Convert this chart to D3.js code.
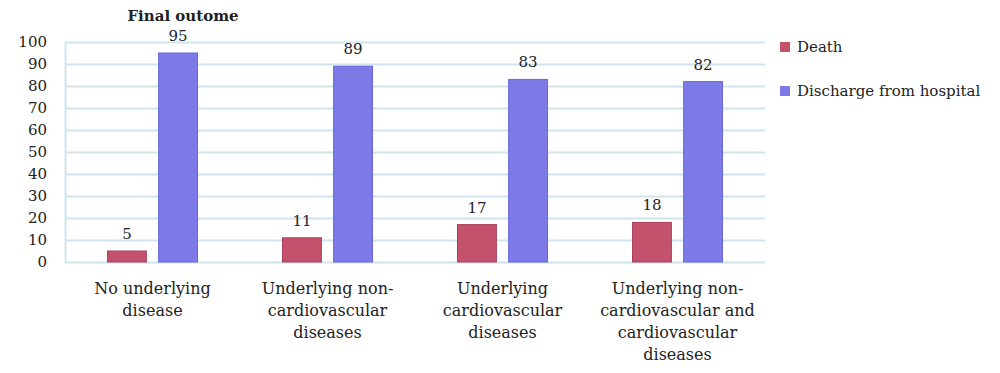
<!DOCTYPE html>
<html>
<head>
<meta charset="utf-8">
<script src="https://cdn.jsdelivr.net/npm/d3@7"></script>
<style>
  body { margin: 0; background: #fff; }
  text { font-family: "DejaVu Serif", serif; fill: #222; }
</style>
</head>
<body>
<div id="chart"></div>
<script>
// chart data
const categories = [
  ["No underlying", "disease"],
  ["Underlying non-", "cardiovascular", "diseases"],
  ["Underlying", "cardiovascular", "diseases"],
  ["Underlying non-", "cardiovascular and", "cardiovascular", "diseases"]
];
const seriesNames = ["Death", "Discharge from hospital"];
const death = [5, 11, 17, 18];
const discharge = [95, 89, 83, 82];
const yTicks = [0, 10, 20, 30, 40, 50, 60, 70, 80, 90, 100];

const fills = ["#c4526d", "#7d7ae8"];
const strokes = ["#a8405a", "#6966dc"];

let width = 1000, height = 373;
let margin = {left: 65, right: 235, top: 42, bottom: 111};

let svg = d3.select("#chart").append("svg")
  .attr("width", width).attr("height", height);

let x0 = d3.scaleBand()
  .domain(d3.range(categories.length))
  .range([margin.left, width - margin.right])
  .paddingInner(0).paddingOuter(0);

let x1 = d3.scaleBand()
  .domain([0, 1])
  .range([42, 133])
  .paddingInner(0.22);

let y = d3.scaleLinear()
  .domain([0, 100])
  .range([height - margin.bottom, margin.top]);

// grid
svg.append("g").selectAll("line")
  .data(yTicks)
  .join("line")
  .attr("x1", margin.left).attr("x2", width - margin.right)
  .attr("y1", d => y(d) + 0.5).attr("y2", d => y(d) + 0.5)
  .attr("stroke", "#cfe4ee")
  .attr("stroke-width", 2);

svg.append("line")
  .attr("x1", margin.left + 0.5).attr("x2", margin.left + 0.5)
  .attr("y1", y(100)).attr("y2", y(0) + 1)
  .attr("stroke", "#cfe4ee").attr("stroke-width", 2);

// y axis labels
let yAxis = d3.axisLeft(y).tickValues(yTicks).tickSize(0).tickPadding(18);
let ya = svg.append("g").attr("transform", `translate(${margin.left},0)`).call(yAxis);
ya.select(".domain").remove();
ya.selectAll("text").style("font-size", "15px").attr("font-family", null).attr("fill", "#222");

// bars
let series = [death, discharge];
let groups = svg.append("g").selectAll("g")
  .data(categories)
  .join("g")
  .attr("transform", (d, i) => `translate(${x0(i)},0)`);

series.forEach((vals, s) => {
  groups.append("rect")
    .attr("x", x1(s) + 0.5)
    .attr("width", x1.bandwidth() - 1)
    .attr("y", (d, i) => y(vals[i]))
    .attr("height", (d, i) => y(0) - y(vals[i]))
    .attr("fill", fills[s])
    .attr("stroke", strokes[s])
    .attr("stroke-width", 1);

  groups.append("text")
    .attr("x", x1(s) + x1.bandwidth() / 2)
    .attr("y", (d, i) => y(vals[i]) - 12)
    .attr("text-anchor", "middle")
    .style("font-size", "15px")
    .text((d, i) => vals[i]);
});

// category labels
groups.each(function(lines, i) {
  let t = d3.select(this).append("text")
    .attr("text-anchor", "middle")
    .style("font-size", "16px");
  lines.forEach((ln, k) => {
    t.append("tspan")
      .attr("x", x0.bandwidth() / 2)
      .attr("y", 294 + k * 22)
      .text(ln);
  });
});

// title
svg.append("text")
  .attr("x", 183).attr("y", 21)
  .attr("text-anchor", "middle")
  .style("font-size", "15px")
  .style("font-weight", "bold")
  .text("Final outome");

// legend
let legend = svg.append("g").attr("transform", "translate(780,0)");
seriesNames.forEach((name, s) => {
  let ly = 47 + s * 44;
  legend.append("rect")
    .attr("x", 0).attr("y", ly - 5)
    .attr("width", 10).attr("height", 10)
    .attr("fill", fills[s]);
  legend.append("text")
    .attr("x", 17).attr("y", ly + 5)
    .style("font-size", "15px")
    .text(name);
});
</script>
</body>
</html>
